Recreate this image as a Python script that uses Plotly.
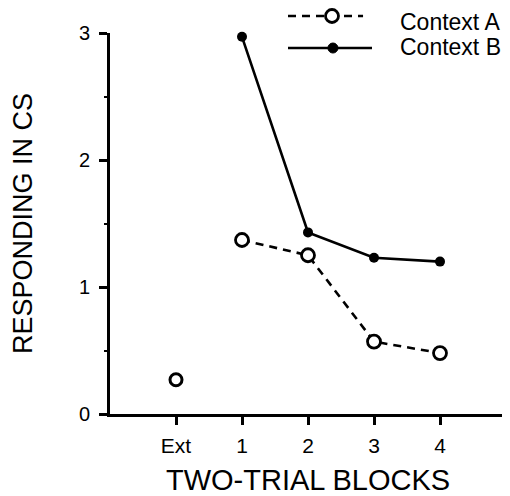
import plotly.graph_objects as go

# Data
categories = ["Ext", "1", "2", "3", "4"]
cat_pos = [1, 2, 3, 4, 5]
context_a = [0.27, 1.37, 1.25, 0.57, 0.48]
context_b = [None, 2.97, 1.43, 1.23, 1.20]
y_ticks = [0, 1, 2, 3]

FONT = "Liberation Sans, Arial, Helvetica, sans-serif"
BLACK = "#000000"

fig = go.Figure()

# Context A: Ext point (unconnected) + blocks 1-4 dashed
fig.add_trace(go.Scatter(
    x=cat_pos[:1], y=context_a[:1], mode="markers",
    marker=dict(symbol="circle-open", size=12, color=BLACK, line=dict(width=3)),
    showlegend=False, cliponaxis=False))
fig.add_trace(go.Scatter(
    x=cat_pos[1:], y=context_a[1:], mode="lines+markers",
    line=dict(color=BLACK, width=2.6, dash="8px,6px"),
    marker=dict(symbol="circle", size=13, color="white", line=dict(color=BLACK, width=2.8)),
    showlegend=False, cliponaxis=False))
# Context B
fig.add_trace(go.Scatter(
    x=cat_pos[1:], y=context_b[1:], mode="lines+markers",
    line=dict(color=BLACK, width=2.6),
    marker=dict(symbol="circle", size=10, color=BLACK),
    showlegend=False, cliponaxis=False))

# Manual legend (paper coordinates)
shapes = [
    dict(type="line", xref="paper", yref="paper", x0=0.4495, x1=0.639, y0=1.0446, y1=1.0446,
         line=dict(color=BLACK, width=2.6, dash="8px,6px"), layer="below"),
    dict(type="circle", xref="paper", yref="paper", xsizemode="pixel", ysizemode="pixel",
         xanchor=0.5606, yanchor=1.0446, x0=-6.5, x1=6.5, y0=-6.5, y1=6.5,
         fillcolor="white", line=dict(color=BLACK, width=2.8)),
    dict(type="line", xref="paper", yref="paper", x0=0.4495, x1=0.6616, y0=0.9606, y1=0.9606,
         line=dict(color=BLACK, width=2.6)),
    dict(type="circle", xref="paper", yref="paper", xsizemode="pixel", ysizemode="pixel",
         xanchor=0.563, yanchor=0.9606, x0=-5, x1=5, y0=-5, y1=5,
         fillcolor=BLACK, line=dict(color=BLACK, width=1)),
]
annotations = [
    dict(text="Context A", xref="paper", yref="paper", x=0.727, y=1.029, xanchor="left",
         yanchor="middle", showarrow=False, font=dict(family=FONT, size=23, color=BLACK)),
    dict(text="Context B", xref="paper", yref="paper", x=0.727, y=0.963, xanchor="left",
         yanchor="middle", showarrow=False, font=dict(family=FONT, size=23, color=BLACK)),
]

fig.update_layout(
    width=502, height=488,
    margin=dict(l=102, r=4, t=25, b=82),
    paper_bgcolor="white", plot_bgcolor="white",
    font=dict(family=FONT, color=BLACK),
    shapes=shapes, annotations=annotations,
    showlegend=False,
)
fig.update_xaxes(
    range=[0, 6], tickvals=cat_pos + [6], ticktext=categories + [""],
    showline=True, linewidth=2.6, linecolor=BLACK,
    ticks="outside", ticklen=8, tickwidth=2.6, tickcolor=BLACK,
    showgrid=False, zeroline=False,
    tickfont=dict(family=FONT, size=21, color=BLACK),
    ticklabelstandoff=3,
    title=dict(text="TWO-TRIAL BLOCKS", font=dict(family=FONT, size=29, color=BLACK), standoff=20),
    automargin=False,
)
fig.update_yaxes(
    range=[0, 3], tickvals=y_ticks,
    showline=True, linewidth=2.6, linecolor=BLACK,
    ticks="outside", ticklen=8, tickwidth=2.6, tickcolor=BLACK,
    minor=dict(tickvals=[0.5, 1.5, 2.5], ticks="outside", ticklen=3, tickwidth=2, tickcolor=BLACK),
    showgrid=False, zeroline=False,
    tickfont=dict(family=FONT, size=20, color=BLACK),
    ticklabelstandoff=5,
    title=dict(text="RESPONDING IN CS", font=dict(family=FONT, size=27, color=BLACK), standoff=40),
    automargin=False,
)

fig.write_html("out.html")
